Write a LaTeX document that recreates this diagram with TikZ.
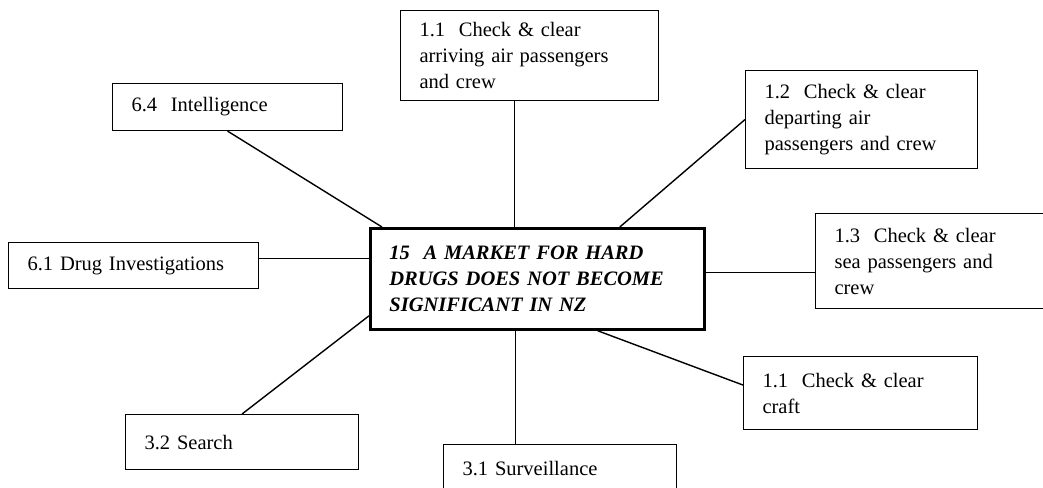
\documentclass[tikz,border=0pt]{standalone}
\usepackage{fontspec}
\setmainfont{Liberation Serif}
\usepackage{tikz}
\usetikzlibrary{calc}

\begin{document}
\begin{tikzpicture}[
  x=1pt, y=-1pt,
  every node/.style={inner sep=2pt},
  task/.style={draw, line width=1.1pt, anchor=north west, align=left, inner xsep=19pt,
    font=\fontsize{20.5}{26}\selectfont},
  goal/.style={draw, line width=2.8pt, anchor=north west, align=left, inner xsep=19pt,
    font=\fontsize{20.5}{26}\selectfont\bfseries\itshape},
  link/.style={line width=1.4pt}
]
\useasboundingbox (0,0) rectangle (1043,487);

% --- central outcome ---
\node[goal, text width=296pt, minimum height=101pt] (goal) at (369,227)
  {15\ \ A MARKET FOR HARD\\DRUGS DOES NOT BECOME\\SIGNIFICANT IN NZ};

% --- outputs round it ---
\node[task, text width=220pt, minimum height=90pt] (arrive) at (400,10)
  {1.1\ \ Check \& clear\\arriving air passengers\\and crew};
\node[task, text width=194pt, minimum height=98pt] (depart) at (745,70)
  {1.2\ \ Check \& clear\\departing air\\passengers and crew};
\node[task, text width=202pt, minimum height=95pt] (sea) at (815,213)
  {1.3\ \ Check \& clear\\sea passengers and\\crew};
\node[task, text width=196pt, minimum height=73pt] (craft) at (743,356)
  {1.1\ \ Check \& clear\\craft};
\node[task, text width=195pt, minimum height=48pt] (surv) at (443,444)
  {3.1 Surveillance};
\node[task, text width=195pt, minimum height=55pt] (search) at (125,414)
  {3.2 Search};
\node[task, text width=212pt, minimum height=46pt] (drug) at (8,242)
  {6.1 Drug Investigations};
\node[task, text width=192pt, minimum height=47pt] (intel) at (112,83)
  {6.4\ \ Intelligence};

% --- connectors ---
\draw[link] ([xshift=-15pt]arrive.south) -- ([xshift=-15pt]arrive.south |- goal.north);
\draw[link] ([xshift=-86pt]goal.north east) -- (depart.west);
\draw[link] ([yshift=6.5pt]goal.east) -- ([yshift=6.5pt]goal.east -| sea.west);
\draw[link] ([xshift=-108pt]goal.south east) -- ([yshift=8pt]craft.west);
\draw[link] ([xshift=-22pt]goal.south) -- ([xshift=-22pt]goal.south |- surv.north);
\draw[link] (search.north) -- ([yshift=15pt]goal.south west);
\draw[link] ([yshift=20.5pt]goal.west) -- ([yshift=20.5pt]goal.west -| drug.east);
\draw[link] (intel.south) -- ([xshift=13pt]goal.north west);

\end{tikzpicture}
\end{document}
